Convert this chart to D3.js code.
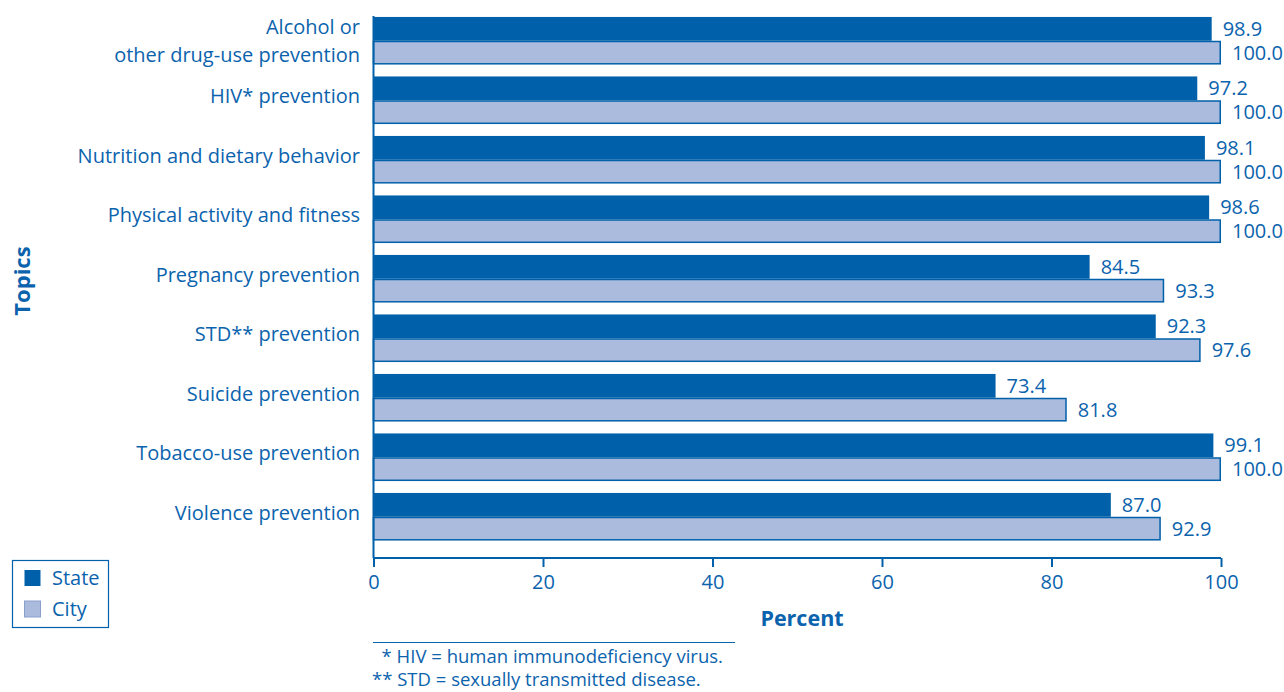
<!DOCTYPE html>
<html><head><meta charset="utf-8">
<script src="https://cdn.jsdelivr.net/npm/d3@7"></script>
<style>
html,body{margin:0;padding:0;background:#fff;}
svg text{font-family:"Open Sans","Noto Sans",sans-serif;fill:#0b63ad;}
</style></head>
<body><svg id="c" width="1284" height="692"></svg>
<script>
const categories = [
  ["Alcohol or","other drug-use prevention"],
  ["HIV* prevention"],
  ["Nutrition and dietary behavior"],
  ["Physical activity and fitness"],
  ["Pregnancy prevention"],
  ["STD** prevention"],
  ["Suicide prevention"],
  ["Tobacco-use prevention"],
  ["Violence prevention"]
];
const seriesNames = ["State","City"];
const stateValues = [98.9, 97.2, 98.1, 98.6, 84.5, 92.3, 73.4, 99.1, 87.0];
const cityValues  = [100.0, 100.0, 100.0, 100.0, 93.3, 97.6, 81.8, 100.0, 92.9];
const xTicks = [0, 20, 40, 60, 80, 100];
const footnotes = ["  * HIV = human immunodeficiency virus.", "** STD = sexually transmitted disease."];

const DARK = "#0060a9", LIGHT = "#aabbdd", TXT = "#0b63ad";
const FS = "20px";
const svg = d3.select("#c");
const keys = categories.map(c => c.join(" "));
const x = d3.scaleLinear().domain([0, 100]).range([373.5, 1221]);
const y = d3.scaleBand().domain(keys).range([11, 546.5]).paddingInner(0.2).paddingOuter(0.1);
const ySub = d3.scaleBand().domain(seriesNames).range([0, y.bandwidth()]);
const colors = {State: DARK, City: LIGHT};

const data = keys.map((k, i) => ({key: k, lines: categories[i], vals: [
  {s: "State", v: stateValues[i]}, {s: "City", v: cityValues[i]}]}));

const g = svg.selectAll("g.grp").data(data).join("g").attr("class", "grp")
  .attr("transform", d => `translate(0,${y(d.key)})`);

g.selectAll("rect").data(d => d.vals).join("rect")
  .attr("x", x(0))
  .attr("y", d => ySub(d.s) + (d.s === "City" ? 0.75 : 0))
  .attr("width", d => x(d.v) - x(0) - (d.s === "City" ? 0.75 : 0))
  .attr("height", d => ySub.bandwidth() - (d.s === "City" ? 1.5 : 0))
  .attr("fill", d => colors[d.s])
  .attr("stroke", d => d.s === "City" ? DARK : "none")
  .attr("stroke-width", 1.5);

g.selectAll("text.val").data(d => d.vals).join("text").attr("class", "val")
  .attr("x", d => x(d.v) + 11)
  .attr("y", d => ySub(d.s) + ySub.bandwidth() / 2)
  .attr("dy", "0.35em")
  .style("font-size", FS)
  .text(d => d.v.toFixed(1));

// category labels
g.each(function(d) {
  const t = d3.select(this).append("text")
    .attr("x", 360).attr("text-anchor", "end")
    .style("font-size", FS);
  const n = d.lines.length;
  const lh = 28;
  const c = y.bandwidth() / 2 - 4 + (n > 1 ? 4 : 0);
  d.lines.forEach((l, j) => {
    t.append("tspan").attr("x", 360)
      .attr("y", c + (j - (n - 1) / 2) * lh).attr("dy", "0.35em").text(l);
  });
});

// y axis line
svg.append("line").attr("x1", 373.5).attr("x2", 373.5).attr("y1", 16).attr("y2", 558)
  .attr("stroke", DARK).attr("stroke-width", 2);

// x axis
const xAxis = svg.append("g").attr("transform", "translate(0,558)")
  .call(d3.axisBottom(x).tickValues(xTicks).tickSize(9).tickPadding(8).tickFormat(d3.format("d")));
xAxis.select(".domain").attr("stroke", DARK).attr("stroke-width", 2).attr("d", `M${x(0)},0H${x(100)}`);
xAxis.selectAll(".tick line").attr("stroke", DARK).attr("stroke-width", 2);
xAxis.selectAll(".tick text").style("font-size", FS).attr("fill", TXT)
  .style("font-family", '"Open Sans","Noto Sans",sans-serif');

svg.append("text").attr("x", 802).attr("y", 618).attr("dy", "0.35em").attr("text-anchor", "middle")
  .style("font-size", "21.5px").style("font-weight", "bold").text("Percent");

svg.append("text").attr("transform", "translate(22,281) rotate(-90)").attr("dy", "0.35em")
  .attr("text-anchor", "middle").style("font-size", "22px").style("font-weight", "bold").text("Topics");

// legend
const lg = svg.append("g");
lg.append("rect").attr("x", 12.5).attr("y", 560.5).attr("width", 96).attr("height", 67)
  .attr("fill", "none").attr("stroke", DARK).attr("stroke-width", 1.2);
seriesNames.forEach((s, i) => {
  lg.append("rect").attr("x", 24.5).attr("y", 570 + i * 31).attr("width", 16).attr("height", 16)
    .attr("fill", colors[s]).attr("stroke", s === "City" ? "#8aa0cc" : "none");
  lg.append("text").attr("x", 52).attr("y", 578 + i * 31).attr("dy", "0.35em")
    .style("font-size", FS).text(s);
});

// footnotes
svg.append("line").attr("x1", 373).attr("x2", 735).attr("y1", 642.5).attr("y2", 642.5)
  .attr("stroke", TXT).attr("stroke-width", 1.2);
footnotes.forEach((f, i) => {
  svg.append("text").attr("x", 372).attr("y", 657 + i * 23).attr("dy", "0.35em")
    .attr("xml:space", "preserve").style("white-space", "pre")
    .style("font-size", "18.5px").text(f);
});
</script></body></html>
